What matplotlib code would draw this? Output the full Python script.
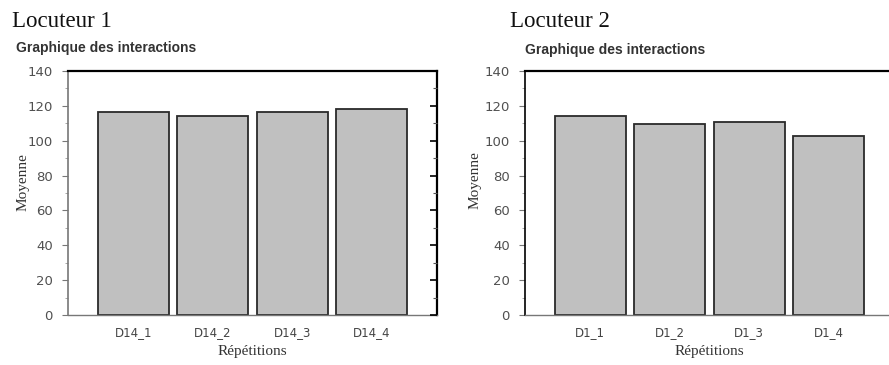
import matplotlib
matplotlib.use("Agg")
import matplotlib.pyplot as plt
from matplotlib.ticker import MultipleLocator

# Data
cats1 = ["D14_1", "D14_2", "D14_3", "D14_4"]
vals1 = [116.5, 114.2, 116.3, 118.0]
cats2 = ["D1_1", "D1_2", "D1_3", "D1_4"]
vals2 = [114.3, 109.7, 110.8, 102.8]
titles = ["Locuteur 1", "Locuteur 2"]
subtitle = "Graphique des interactions"
ylabel = "Moyenne"
xlabel = "Répétitions"

W, H = 889, 365
fig = plt.figure(figsize=(W / 100, H / 100), dpi=100)

def fx(px):
    return px / W

def fy(py):
    return 1 - py / H

serif = ["Liberation Serif", "DejaVu Serif"]
sans = ["Liberation Sans", "DejaVu Sans"]

ax_w = fx(437) - fx(68)
ax_b = fy(315)
ax_h = fy(71) - fy(315)

panels = [
    dict(cats=cats1, vals=vals1, left=68, title=titles[0], tx=12, sx=16, sy=52,
         ylx=23, yly=182, left_col="#777777", right_ticks=True),
    dict(cats=cats2, vals=vals2, left=525, title=titles[1], tx=510, sx=525, sy=54,
         ylx=475, yly=180, left_col="#000000", right_ticks=False),
]

for p in panels:
    ax = fig.add_axes([fx(p["left"]), ax_b, ax_w, ax_h])
    x = list(range(len(p["cats"])))
    ax.bar(x, p["vals"], width=0.89, color="#c0c0c0", edgecolor="#2a2a2a",
           linewidth=1.3, zorder=2)
    ax.set_xlim(-0.82, 3.82)
    ax.set_ylim(0, 140)
    ax.yaxis.set_major_locator(MultipleLocator(20))
    ax.yaxis.set_minor_locator(MultipleLocator(10))
    ax.set_xticks(x)
    ax.set_xticklabels(p["cats"], fontsize=8.5, color="#444444",
                       family=["DejaVu Sans"])
    for lab in ax.get_yticklabels():
        lab.set_fontsize(9.5)
        lab.set_color("#505050")
    ax.tick_params(axis="y", which="major", direction="out", length=4, width=0.8,
                   color="#777777", pad=7)
    ax.tick_params(axis="y", which="minor", direction="out", length=2, width=0.6,
                   color="#999999")
    ax.tick_params(axis="x", which="major", direction="in", length=3, width=0.6,
                   color="#aaaaaa", pad=8)
    ax.spines["top"].set_color("#000000")
    ax.spines["top"].set_linewidth(1.6)
    ax.spines["right"].set_color("#000000")
    ax.spines["right"].set_linewidth(1.6)
    ax.spines["bottom"].set_color("#777777")
    ax.spines["bottom"].set_linewidth(1.0)
    ax.spines["left"].set_color(p["left_col"])
    ax.spines["left"].set_linewidth(1.2)

    if p["right_ticks"]:
        tw = ax.twinx()
        tw.set_ylim(0, 140)
        tw.yaxis.set_major_locator(MultipleLocator(20))
        tw.yaxis.set_minor_locator(MultipleLocator(10))
        tw.tick_params(axis="y", which="major", direction="in", length=5, width=1.2,
                       color="#000000", labelright=False)
        tw.tick_params(axis="y", which="minor", direction="in", length=3, width=0.8,
                       color="#555555")
        for s in tw.spines.values():
            s.set_visible(False)

    ax.set_xlabel(xlabel, family=serif, fontsize=11, color="#333333", labelpad=4)

    fig.text(fx(p["ylx"]), fy(p["yly"]), ylabel, family=serif, fontsize=11,
             color="#333333", rotation=90, ha="center", va="center")
    fig.text(fx(p["tx"]), fy(27), p["title"], family=serif, fontsize=16.5,
             color="#111111", ha="left", va="baseline")
    fig.text(fx(p["sx"]), fy(p["sy"]), subtitle, family=sans, fontsize=10,
             fontweight="bold", color="#333333", ha="left", va="baseline")

fig.savefig("out.png", dpi=100)
